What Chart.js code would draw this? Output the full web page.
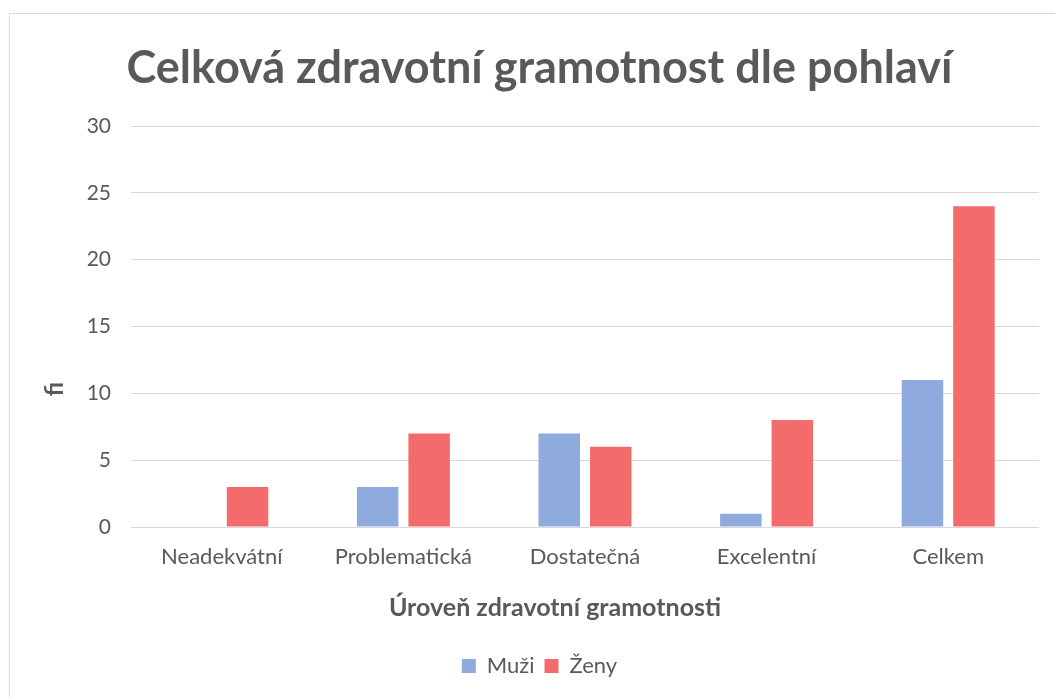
<!DOCTYPE html>
<html>
<head>
<meta charset="utf-8">
<title>Celková zdravotní gramotnost dle pohlaví</title>
<script src="https://cdn.jsdelivr.net/npm/chart.js@4.4.1/dist/chart.umd.min.js"></script>
<style>
  html, body { margin: 0; padding: 0; background: #fff; overflow: hidden; }
  .frame { position: absolute; left: 9px; top: 13px; width: 1060px; height: 700px;
           border: 1px solid #d9d9d9; box-sizing: border-box; background: #fff; }
  .wrap { position: absolute; left: 0; top: 0; width: 1046px; height: 684px; }
</style>
</head>
<body>
<div class="frame">
  <div class="wrap"><canvas id="gr1"></canvas></div>
</div>
<script>
// data
const categories = ["Neadekvátní", "Problematická", "Dostatečná", "Excelentní", "Celkem"];
const muzi = [0, 3, 7, 1, 11];
const zeny = [3, 7, 6, 8, 24];
const yTicks = [0, 5, 10, 15, 20, 25, 30];

const textGrey = "#595959";
const fontFam = "Lato, 'Open Sans', sans-serif";

// axis titles sit off the plot centre in the original, so draw them here
const axisTitles = {
  id: "axisTitles",
  afterDraw(chart) {
    const ctx = chart.ctx;
    ctx.save();
    ctx.fillStyle = textGrey;
    ctx.textAlign = "center";
    ctx.textBaseline = "middle";
    ctx.font = "bold 25px " + fontFam;
    ctx.fillText("Úroveň zdravotní gramotnosti", 545, 594);
    ctx.translate(45, 375);
    ctx.rotate(-Math.PI / 2);
    ctx.font = "bold 24px " + fontFam;
    ctx.fillText("fi", 0, 0);
    ctx.restore();
  }
};

const config = {
  type: "bar",
  data: {
    labels: categories,
    datasets: [
      { label: "Muži", data: muzi, backgroundColor: "#8faadc",
        categoryPercentage: 0.567, barPercentage: 0.806 },
      { label: "Ženy", data: zeny, backgroundColor: "#f46b6c",
        categoryPercentage: 0.567, barPercentage: 0.806 }
    ]
  },
  options: {
    responsive: true,
    maintainAspectRatio: false,
    animation: false,
    layout: { padding: { left: 30, right: 17, top: 0, bottom: 11 } },
    scales: {
      x: {
        grid: { display: false, drawTicks: false },
        border: { display: false },
        ticks: { color: textGrey, font: { size: 22, family: fontFam }, padding: 17 },
        afterFit: (s) => { s.height = 118; }
      },
      y: {
        min: 0, max: 30,
        afterBuildTicks: (s) => { s.ticks = yTicks.map(v => ({ value: v })); },
        grid: { color: "#d9d9d9", lineWidth: 1, drawTicks: false },
        border: { display: false },
        ticks: { color: textGrey, font: { size: 21, family: fontFam }, padding: 20 },
        afterFit: (s) => { s.width = 91; }
      }
    },
    plugins: {
      title: {
        display: true,
        text: "Celková zdravotní gramotnost dle pohlaví",
        color: textGrey,
        font: { size: 45, weight: "bold", family: fontFam },
        padding: { top: 27, bottom: 31 }
      },
      legend: {
        position: "bottom",
        labels: { color: textGrey, font: { size: 22, family: fontFam },
                  boxWidth: 14, boxHeight: 14, padding: 10 }
      },
      tooltip: { enabled: false }
    }
  },
  plugins: [axisTitles]
};

new Chart(document.getElementById("gr1").getContext("2d"), config);
</script>
</body>
</html>
